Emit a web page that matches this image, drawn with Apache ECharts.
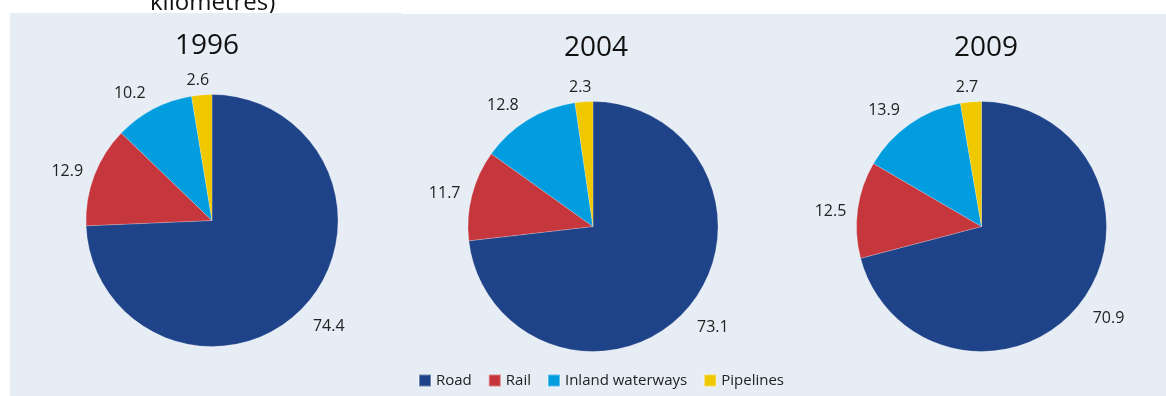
<!DOCTYPE html>
<html>
<head>
<meta charset="utf-8">
<script src="https://cdn.jsdelivr.net/npm/echarts@6/dist/echarts.min.js"></script>
<style>
  html, body { margin: 0; padding: 0; background: #ffffff; }
  #chart { width: 1166px; height: 396px; }
</style>
</head>
<body>
<div id="chart"></div>
<script>
// Modal split of inland freight transport (%), by year
const categories = ['Road', 'Rail', 'Inland waterways', 'Pipelines'];
const years = ['1996', '2004', '2009'];
const road = [74.4, 73.1, 70.9];
const rail = [12.9, 11.7, 12.5];
const inland = [10.2, 12.8, 13.9];
const pipelines = [2.6, 2.3, 2.7];

const colors = ['#1f4388', '#c5373d', '#019ddf', '#f0c800'];
const FONT = '"Open Sans", "Liberation Sans", sans-serif';

// Pie placement for each year
const centers = [[212, 220.5], [593, 226.5], [981.5, 226.5]];
const radii = [126, 125, 125];
const titleX = [207, 596, 986];
const titleTop = [32, 34, 34];

// Outside-end label placement per category: gap beyond the rim,
// and a small sideways shift along the rim (positive = clockwise)
const labelGap = [15, 10.3, 12.9, 8.9];
const labelShift = [-5.3, -4.2, -13.3, -2.6];

function yearValues(i) {
  return [road[i], rail[i], inland[i], pipelines[i]];
}

function outsideEnd(i) {
  return function (params) {
    const k = params.dataIndex;
    const vals = yearValues(i);
    const total = vals.reduce((a, b) => a + b, 0);
    let before = 0;
    for (let j = 0; j < k; j++) before += vals[j];
    const mid = (before + vals[k] / 2) / total * Math.PI * 2;
    const dx = Math.sin(mid);
    const dy = -Math.cos(mid);
    const hw = params.labelRect.width / 2;
    const hh = 6;
    const dist = radii[i] + labelGap[k] + hw * Math.abs(dx) + hh * Math.abs(dy);
    const s = labelShift[k];
    return {
      x: centers[i][0] + dist * dx - dy * s,
      y: centers[i][1] + dist * dy + dx * s + 1,
      align: 'center',
      verticalAlign: 'middle'
    };
  };
}

const series = years.map((y, i) => ({
  type: 'pie',
  name: y,
  center: centers[i],
  radius: [0, radii[i]],
  startAngle: 90,
  clockwise: true,
  avoidLabelOverlap: false,
  silent: true,
  itemStyle: { borderWidth: 0.6, borderColor: 'rgba(255,255,255,0.35)' },
  label: {
    show: true,
    position: 'outside',
    formatter: (p) => p.value.toFixed(1),
    fontFamily: FONT,
    fontSize: 16,
    color: '#222222'
  },
  labelLine: { show: false },
  labelLayout: outsideEnd(i),
  data: categories.map((c, k) => ({ name: c, value: yearValues(i)[k] }))
}));

const chart = echarts.init(document.getElementById('chart'), null, { renderer: 'canvas' });
chart.setOption({
  animation: false,
  color: colors,
  backgroundColor: '#ffffff',
  graphic: [
    {
      type: 'text',
      z: -20,
      x: 150,
      y: 15,
      style: {
        text: 'kilometres)',
        fontFamily: FONT,
        fontSize: 24,
        fill: '#111111',
        verticalAlign: 'bottom'
      }
    },
    {
      type: 'rect',
      z: -10,
      shape: { x: 10, y: 13, width: 392, height: 383 },
      style: { fill: '#e6edf5' }
    },
    {
      type: 'rect',
      z: -10,
      shape: { x: 401, y: 14, width: 765, height: 382 },
      style: { fill: '#e6edf5' }
    }
  ],
  title: years.map((y, i) => ({
    text: y,
    left: titleX[i],
    top: titleTop[i],
    textAlign: 'center',
    padding: 0,
    textStyle: {
      fontFamily: FONT,
      fontSize: 28,
      fontWeight: 'normal',
      color: '#111111'
    }
  })),
  legend: {
    data: categories,
    left: 418,
    top: 373,
    padding: 0,
    itemWidth: 12,
    itemHeight: 12,
    itemGap: 16,
    icon: 'rect',
    selectedMode: false,
    textStyle: {
      fontFamily: FONT,
      fontSize: 15,
      color: '#222222'
    }
  },
  series: series
});
</script>
</body>
</html>
